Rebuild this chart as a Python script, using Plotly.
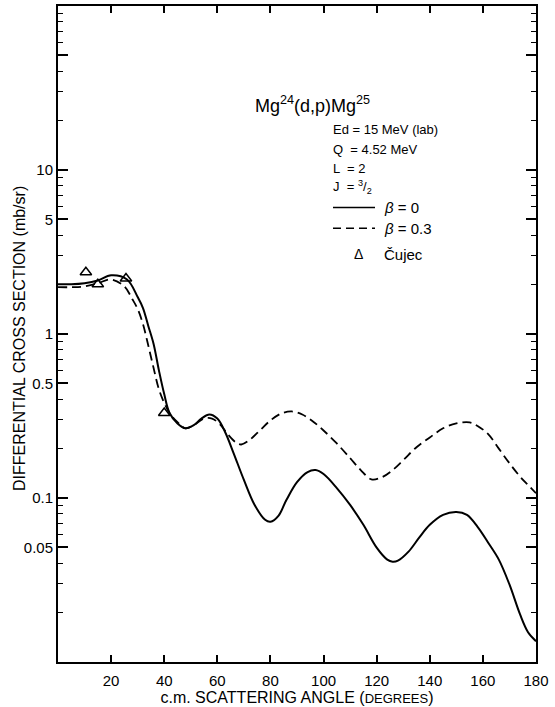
import plotly.graph_objects as go

# ---- data ----
angle_b0 = [0, 5, 10, 15, 20, 26, 30, 32, 34, 36, 38, 40, 42, 45, 48, 51, 54, 57, 60, 63, 66, 70, 74,
            78, 80, 83, 86, 90, 94, 97, 100, 105, 110, 115, 120, 124, 126, 128, 132, 136, 140, 145,
            150, 154, 158, 162, 166, 170, 174, 177, 180]
sigma_b0 = [2.01, 2.01, 2.04, 2.12, 2.28, 2.15, 1.68, 1.44, 1.12, 0.87, 0.60, 0.43, 0.33, 0.285, 0.266,
            0.277, 0.305, 0.323, 0.305, 0.251, 0.190, 0.129, 0.091, 0.0736, 0.0716, 0.0778, 0.0972,
            0.125, 0.144, 0.148, 0.140, 0.115, 0.0907, 0.0686, 0.0498, 0.0421, 0.0409, 0.0415, 0.0471,
            0.0573, 0.0686, 0.0789, 0.0822, 0.0789, 0.0667, 0.0534, 0.0421, 0.0297, 0.0195, 0.0152,
            0.0134]

angle_b03 = [0, 5, 10, 15, 20, 25, 28, 30, 32, 34, 36, 38, 40, 42, 45, 48, 51, 55, 58, 61, 64, 67,
             69, 72, 76, 80, 84, 88, 92, 96, 100, 105, 110, 114, 118, 122, 126, 130, 135, 140, 145,
             150, 155, 158, 162, 166, 170, 174, 177, 180]
sigma_b03 = [1.93, 1.93, 1.95, 2.04, 2.15, 1.95, 1.63, 1.42, 1.15, 0.85, 0.62, 0.46, 0.38, 0.33, 0.29,
             0.266, 0.277, 0.305, 0.305, 0.281, 0.244, 0.218, 0.212, 0.225, 0.258, 0.297, 0.327, 0.337,
             0.323, 0.293, 0.258, 0.215, 0.175, 0.148, 0.130, 0.134, 0.148, 0.170, 0.204, 0.234, 0.266,
             0.285, 0.289, 0.275, 0.245, 0.200, 0.163, 0.135, 0.120, 0.107]

angle_cujec = [10.5, 15, 25.6, 40]
sigma_cujec = [2.38, 2.01, 2.18, 0.33]

x_ticks = [20, 40, 60, 80, 100, 120, 140, 160, 180]
x_ticklabels = ["20", "40", "60", "80", "100", "120", "140", "160", "180"]
y_ticks = [0.05, 0.1, 0.5, 1, 5, 10, 50]
y_ticklabels = ["0.05", "0.1", "0.5", "1", "5", "10", ""]
y_minor = [m * 10 ** e for e in (-2, -1, 0, 1) for m in (2, 3, 4, 6, 7, 8, 9)]

FONT = "Liberation Sans"

fig = go.Figure()
fig.add_trace(go.Scatter(x=angle_b0, y=sigma_b0, mode="lines", line_shape="spline",
                         line=dict(color="black", width=2), name="β = 0", showlegend=False))
fig.add_trace(go.Scatter(x=angle_b03, y=sigma_b03, mode="lines", line_shape="spline",
                         line=dict(color="black", width=1.8, dash="9px,5px"), name="β = 0.3",
                         showlegend=False))
fig.add_trace(go.Scatter(x=angle_cujec, y=sigma_cujec, mode="markers",
                         marker=dict(symbol="triangle-up-open", size=10, color="black",
                                     line=dict(width=1.5, color="black")),
                         name="Čujec", showlegend=False))

W, H = 555, 707
L, R, T, B = 58, 19, 4, 45
pw, ph = W - L - R, H - T - B


def px(x):
    return (x - L) / pw


def py(y):
    return (H - B - y) / ph


fig.update_layout(
    width=W, height=H,
    margin=dict(l=L, r=R, t=T, b=B),
    paper_bgcolor="white", plot_bgcolor="white",
    font=dict(family=FONT, color="black", size=14),
    xaxis=dict(range=[0, 180], tickvals=x_ticks, ticktext=x_ticklabels,
               ticks="inside", ticklen=7, tickwidth=1.5, tickcolor="black",
               showline=True, linewidth=2, linecolor="black", mirror="ticks",
               showgrid=False, zeroline=False, tickfont=dict(size=15, family=FONT),
               ticklabelstandoff=4,
               title=dict(text="c.m. SCATTERING ANGLE (<span style='font-size:13px'>DEGREES</span>)",
                          font=dict(size=16, family=FONT), standoff=3)),
    yaxis=dict(type="log", range=[-2, 2], tickvals=y_ticks, ticktext=y_ticklabels,
               ticks="inside", ticklen=10, tickwidth=1.5, tickcolor="black",
               minor=dict(tickvals=y_minor, ticks="inside", ticklen=5, tickwidth=1.3,
                          tickcolor="black", showgrid=False),
               showline=True, linewidth=2, linecolor="black", mirror="ticks",
               showgrid=False, zeroline=False, tickfont=dict(size=15, family=FONT)),
)

fig.add_annotation(text="DIFFERENTIAL CROSS SECTION (mb/sr)", textangle=-90,
                   xref="paper", yref="paper", x=px(20), y=py(338), showarrow=False,
                   font=dict(size=16, family=FONT), xanchor="center", yanchor="middle")

fig.add_annotation(text="Mg<sup>24</sup>(d,p)Mg<sup>25</sup>", xref="paper", yref="paper",
                   x=px(253), y=py(103), xanchor="left", yanchor="middle", showarrow=False,
                   font=dict(size=18, family=FONT))

info = [("Ed = 15 MeV (lab)", 128), ("Q  = 4.52 MeV", 148), ("L  = 2", 167),
        ("J  = <sup>3</sup>/<sub>2</sub>", 186)]
for txt, yy in info:
    fig.add_annotation(text=txt, xref="paper", yref="paper", x=px(331), y=py(yy),
                       xanchor="left", yanchor="middle", showarrow=False,
                       font=dict(size=13, family=FONT))

# key
fig.add_shape(type="line", xref="paper", yref="paper", x0=px(333), x1=px(375), y0=py(206), y1=py(206),
              line=dict(color="black", width=1.5))
fig.add_shape(type="line", xref="paper", yref="paper", x0=px(333), x1=px(375), y0=py(227), y1=py(227),
              line=dict(color="black", width=1.5, dash="8px,5px"))
fig.add_annotation(text="<i>β</i> = 0", xref="paper", yref="paper", x=px(382), y=py(206),
                   xanchor="left", yanchor="middle", showarrow=False, font=dict(size=15, family=FONT))
fig.add_annotation(text="<i>β</i> = 0.3", xref="paper", yref="paper", x=px(382), y=py(227),
                   xanchor="left", yanchor="middle", showarrow=False, font=dict(size=15, family=FONT))
fig.add_annotation(text="Δ", xref="paper", yref="paper", x=px(358), y=py(253),
                   xanchor="center", yanchor="middle", showarrow=False, font=dict(size=14, family=FONT))
fig.add_annotation(text="Čujec", xref="paper", yref="paper", x=px(382), y=py(253),
                   xanchor="left", yanchor="middle", showarrow=False, font=dict(size=15, family=FONT))

fig.write_html("out.html")
